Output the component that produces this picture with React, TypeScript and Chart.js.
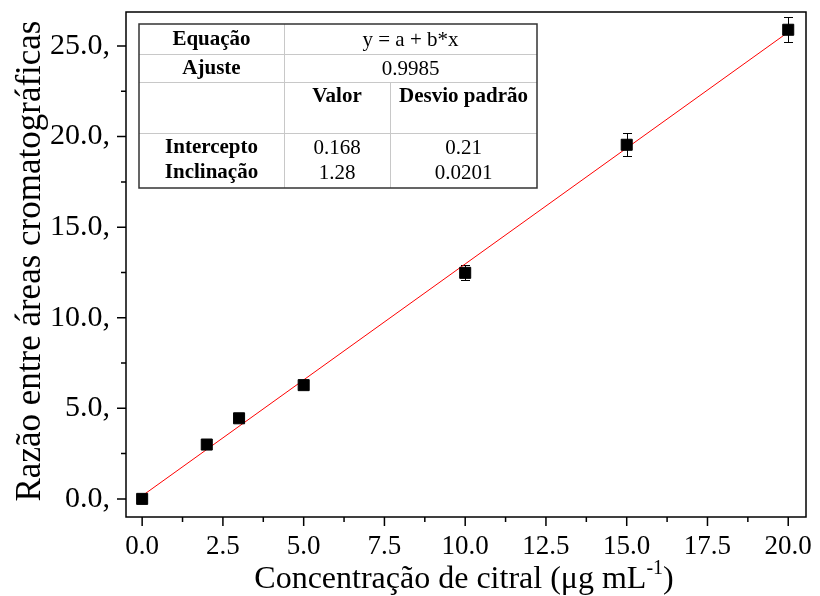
import React, { useEffect, useRef } from 'react';
import { Chart, registerables } from 'chart.js';

Chart.register(...registerables);

// Calibration points: concentration (µg/mL) vs. chromatographic area ratio
const CONCENTRATIONS = [0, 2, 3, 5, 10, 15, 20];
const AREA_RATIOS = [0.0, 3.0, 4.45, 6.28, 12.48, 19.55, 25.9];
const RATIO_ERRORS = [0.05, 0.08, 0.08, 0.1, 0.42, 0.63, 0.69];

// Linear fit results
const FIT_EQUATION = 'y = a + b*x';
const FIT_R2 = '0.9985';
const FIT_INTERCEPT = 0.168;
const FIT_SLOPE = 1.28;
const FIT_PARAM_NAMES = ['Intercepto', 'Inclinação'];
const FIT_VALUES = [FIT_INTERCEPT, FIT_SLOPE];
const FIT_STD_ERRORS = ['0.21', '0.0201'];

// Axis ticks
const X_TICK_VALUES = [0, 2.5, 5, 7.5, 10, 12.5, 15, 17.5, 20];
const X_TICK_LABELS = ['0.0', '2.5', '5.0', '7.5', '10.0', '12.5', '15.0', '17.5', '20.0'];
const Y_TICK_VALUES = [0, 5, 10, 15, 20, 25];
const Y_TICK_LABELS = ['0.0,', '5.0,', '10.0,', '15.0,', '20.0,', '25.0,'];

const SERIF = '"Liberation Serif", "Times New Roman", serif';

const decorations = {
  id: 'decorations',
  beforeDatasetsDraw(chart: any) {
    const { ctx, scales } = chart;
    const x = scales.x;
    const y = scales.y;
    ctx.save();
    ctx.strokeStyle = '#000';
    ctx.lineWidth = 1;
    CONCENTRATIONS.forEach((c, i) => {
      const px = Math.round(x.getPixelForValue(c)) + 0.5;
      const top = y.getPixelForValue(AREA_RATIOS[i] + RATIO_ERRORS[i]);
      const bot = y.getPixelForValue(AREA_RATIOS[i] - RATIO_ERRORS[i]);
      ctx.beginPath();
      ctx.moveTo(px, top);
      ctx.lineTo(px, bot);
      ctx.moveTo(px - 4.5, Math.round(top) + 0.5);
      ctx.lineTo(px + 4.5, Math.round(top) + 0.5);
      ctx.moveTo(px - 4.5, Math.round(bot) + 0.5);
      ctx.lineTo(px + 4.5, Math.round(bot) + 0.5);
      ctx.stroke();
    });
    ctx.restore();
  },
  afterDraw(chart: any) {
    const { ctx, chartArea: a, scales } = chart;
    const x = scales.x;
    const y = scales.y;
    ctx.save();

    // plot frame
    ctx.strokeStyle = '#000';
    ctx.lineWidth = 1.5;
    ctx.strokeRect(a.left, a.top, a.right - a.left, a.bottom - a.top);

    // outward major and minor ticks on the bottom and left axes
    ctx.beginPath();
    X_TICK_VALUES.forEach((v, i) => {
      const px = x.getPixelForValue(v);
      ctx.moveTo(px, a.bottom);
      ctx.lineTo(px, a.bottom + 9);
      if (i < X_TICK_VALUES.length - 1) {
        const m = x.getPixelForValue((v + X_TICK_VALUES[i + 1]) / 2);
        ctx.moveTo(m, a.bottom);
        ctx.lineTo(m, a.bottom + 5);
      }
    });
    Y_TICK_VALUES.forEach((v, i) => {
      const py = y.getPixelForValue(v);
      ctx.moveTo(a.left, py);
      ctx.lineTo(a.left - 9, py);
      if (i < Y_TICK_VALUES.length - 1) {
        const m = y.getPixelForValue((v + Y_TICK_VALUES[i + 1]) / 2);
        ctx.moveTo(a.left, m);
        ctx.lineTo(a.left - 5, m);
      }
    });
    ctx.stroke();

    // axis titles
    ctx.fillStyle = '#000';
    ctx.textBaseline = 'alphabetic';
    ctx.textAlign = 'left';
    const mainFont = `32px ${SERIF}`;
    const supFont = `20px ${SERIF}`;
    const partA = 'Concentração de citral (μg mL';
    const partSup = '-1';
    const partB = ')';
    ctx.font = mainFont;
    const wA = ctx.measureText(partA).width;
    const wB = ctx.measureText(partB).width;
    ctx.font = supFont;
    const wSup = ctx.measureText(partSup).width;
    const total = wA + wSup + wB;
    const cx = 464;
    let tx = cx - total / 2;
    const baseY = 588;
    ctx.font = mainFont;
    ctx.fillText(partA, tx, baseY);
    tx += wA;
    ctx.font = supFont;
    ctx.fillText(partSup, tx, baseY - 14);
    tx += wSup;
    ctx.font = mainFont;
    ctx.fillText(partB, tx, baseY);

    ctx.save();
    ctx.translate(40, 261);
    ctx.rotate(-Math.PI / 2);
    ctx.textAlign = 'center';
    ctx.font = `35px ${SERIF}`;
    ctx.fillText('Razão entre áreas cromatográficas', 0, 0);
    ctx.restore();

    // fit results table
    const L = 139, R = 537, T = 24, B = 188;
    const c1 = 284, c2 = 390;
    const rows = [54, 82, 133];
    ctx.fillStyle = '#fff';
    ctx.fillRect(L, T, R - L, B - T);
    ctx.strokeStyle = '#c8c8c8';
    ctx.lineWidth = 1;
    ctx.beginPath();
    rows.forEach((ry) => {
      ctx.moveTo(L, ry + 0.5);
      ctx.lineTo(R, ry + 0.5);
    });
    ctx.moveTo(c1 + 0.5, T);
    ctx.lineTo(c1 + 0.5, B);
    ctx.moveTo(c2 + 0.5, rows[1]);
    ctx.lineTo(c2 + 0.5, B);
    ctx.stroke();
    ctx.strokeStyle = '#333';
    ctx.lineWidth = 1.5;
    ctx.strokeRect(L, T, R - L, B - T);

    ctx.fillStyle = '#000';
    ctx.textAlign = 'center';
    ctx.textBaseline = 'middle';
    const bold = `bold 21px ${SERIF}`;
    const normal = `21px ${SERIF}`;
    const col1 = (L + c1) / 2;
    const col23 = (c1 + R) / 2;
    const col2 = (c1 + c2) / 2;
    const col3 = (c2 + R) / 2;
    ctx.font = bold;
    ctx.fillText('Equação', col1, 40);
    ctx.fillText('Ajuste', col1, 69);
    ctx.fillText('Valor', col2, 97);
    ctx.fillText('Desvio padrão', col3, 97);
    ctx.fillText(FIT_PARAM_NAMES[0], col1, 148);
    ctx.fillText(FIT_PARAM_NAMES[1], col1, 173);
    ctx.font = normal;
    ctx.fillText(FIT_EQUATION, col23, 40);
    ctx.fillText(FIT_R2, col23, 69);
    ctx.fillText(String(FIT_VALUES[0]), col2, 148);
    ctx.fillText(String(FIT_VALUES[1]), col2, 173);
    ctx.fillText(FIT_STD_ERRORS[0], col3, 148);
    ctx.fillText(FIT_STD_ERRORS[1], col3, 173);

    ctx.restore();
  },
};

const noScalePadding = (s: any) => {
  s.paddingTop = 0;
  s.paddingBottom = 0;
  s.paddingLeft = 0;
  s.paddingRight = 0;
};

export default function App() {
  const canvasRef = useRef<HTMLCanvasElement | null>(null);

  useEffect(() => {
    if (!canvasRef.current) return;
    const xEnd = CONCENTRATIONS[CONCENTRATIONS.length - 1];
    const chart = new Chart(canvasRef.current, {
      type: 'scatter',
      data: {
        datasets: [
          {
            type: 'scatter',
            label: 'Razão',
            data: CONCENTRATIONS.map((c, i) => ({ x: c, y: AREA_RATIOS[i] })),
            pointStyle: 'rect',
            pointRadius: 7.8,
            pointHoverRadius: 7.8,
            backgroundColor: '#000',
            borderColor: '#000',
            borderWidth: 1,
            order: 1,
          },
          {
            type: 'line',
            label: 'Ajuste linear',
            data: [
              { x: CONCENTRATIONS[0], y: FIT_INTERCEPT + FIT_SLOPE * CONCENTRATIONS[0] },
              { x: xEnd, y: FIT_INTERCEPT + FIT_SLOPE * xEnd },
            ],
            borderColor: '#ff0000',
            borderWidth: 1,
            pointRadius: 0,
            fill: false,
            order: 2,
          } as any,
        ],
      },
      options: {
        responsive: false,
        animation: false,
        events: [],
        layout: { padding: { top: 12, right: 14, left: 0, bottom: 0 } },
        plugins: { legend: { display: false }, tooltip: { enabled: false } },
        scales: {
          x: {
            type: 'linear',
            min: -0.5,
            max: 20.55,
            grid: { display: false, drawTicks: false },
            border: { display: false },
            afterBuildTicks: (s: any) => {
              s.ticks = X_TICK_VALUES.map((v) => ({ value: v }));
            },
            afterFit: (s: any) => {
              s.height = 79;
              noScalePadding(s);
            },
            ticks: {
              autoSkip: false,
              maxRotation: 0,
              padding: 14,
              color: '#000',
              font: { family: SERIF, size: 27 },
              callback: (_v: any, i: number) => X_TICK_LABELS[i],
            },
          },
          y: {
            type: 'linear',
            min: -1,
            max: 26.88,
            grid: { display: false, drawTicks: false },
            border: { display: false },
            afterBuildTicks: (s: any) => {
              s.ticks = Y_TICK_VALUES.map((v) => ({ value: v }));
            },
            afterFit: (s: any) => {
              s.width = 126;
              noScalePadding(s);
            },
            ticks: {
              autoSkip: false,
              padding: 16,
              color: '#000',
              font: { family: SERIF, size: 30 },
              callback: (_v: any, i: number) => Y_TICK_LABELS[i],
            },
          },
        },
      },
      plugins: [decorations],
    });
    return () => chart.destroy();
  }, []);

  return (
    <div style={{ position: 'fixed', left: 0, top: 0, width: 820, height: 596, background: '#fff' }}>
      <canvas ref={canvasRef} width={820} height={596} style={{ display: 'block' }} />
    </div>
  );
}
